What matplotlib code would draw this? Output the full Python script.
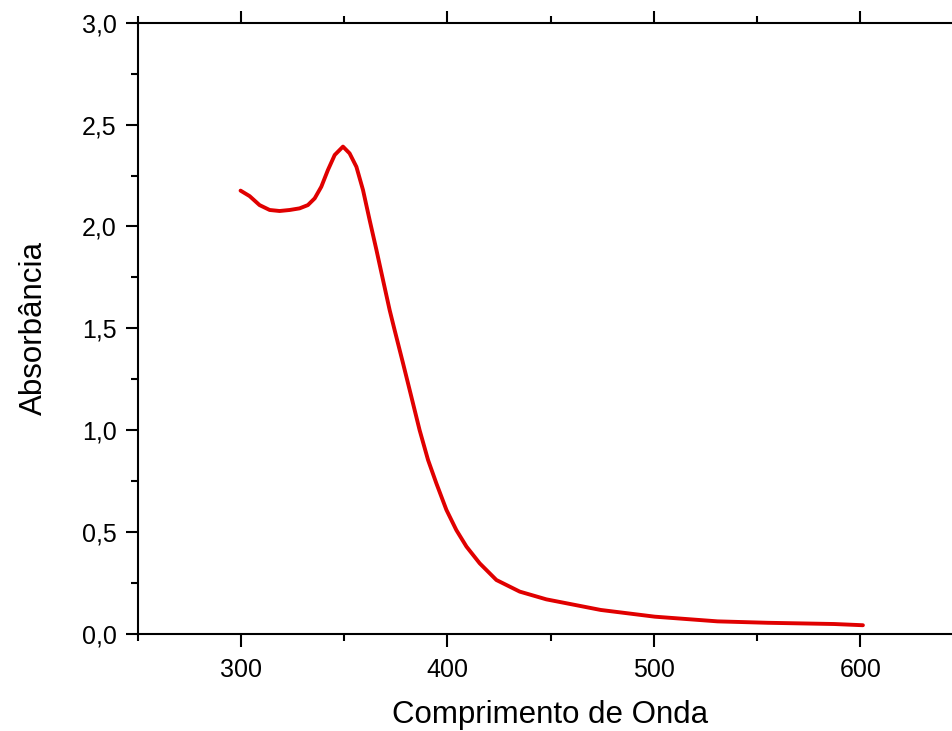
import matplotlib.pyplot as plt
from matplotlib.ticker import MultipleLocator, FuncFormatter

plt.rcParams['font.family'] = ['Liberation Sans', 'DejaVu Sans']

# absorption spectrum
wavelength = [299.9, 304.3, 309.1, 314.0, 318.8, 323.7, 328.5, 332.5, 335.8,
              339.0, 342.2, 345.5, 349.5, 352.7, 356.0, 359.2, 362.4, 365.7,
              368.9, 372.1, 374.5, 378.6, 382.6, 386.6, 390.7, 394.7, 399.6,
              404.4, 409.3, 415.7, 423.8, 435.1, 448.0, 474.3, 500.5, 530.9,
              555.2, 587.4, 601.3]
absorbance = [2.176, 2.149, 2.105, 2.081, 2.076, 2.081, 2.089, 2.105, 2.138,
              2.195, 2.277, 2.351, 2.392, 2.359, 2.293, 2.179, 2.032, 1.885,
              1.737, 1.590, 1.492, 1.328, 1.165, 1.001, 0.854, 0.740, 0.609,
              0.510, 0.429, 0.347, 0.265, 0.208, 0.170, 0.118, 0.085, 0.062,
              0.055, 0.049, 0.043]

fig = plt.figure(figsize=(9.53, 7.31), dpi=100)
ax = fig.add_axes([0.1443, 0.1327, 0.8667, 0.8362])

ax.plot(wavelength, absorbance, color='#e00000', lw=2.8,
        solid_capstyle='round', solid_joinstyle='round')

ax.set_xlim(250, 650)
ax.set_ylim(0, 3.0)
ax.xaxis.set_major_locator(MultipleLocator(100))
ax.xaxis.set_minor_locator(MultipleLocator(50))
ax.yaxis.set_major_locator(MultipleLocator(0.5))
ax.yaxis.set_minor_locator(MultipleLocator(0.25))
ax.yaxis.set_major_formatter(FuncFormatter(lambda v, p: f"{v:.1f}".replace('.', ',')))

ax.spines['right'].set_visible(False)
for s in ['left', 'bottom', 'top']:
    ax.spines[s].set_linewidth(1.5)

ax.tick_params(which='both', direction='out', width=1.5, labelsize=18,
               top=True, right=False, labeltop=False)
ax.tick_params(which='major', length=9)
ax.tick_params(which='minor', length=5)
ax.tick_params(axis='x', pad=8)
ax.tick_params(axis='y', pad=6)

ax.set_xlabel('Comprimento de Onda', fontsize=22.5, labelpad=13)
ax.set_ylabel('Absorbância', fontsize=22.5, labelpad=24)

fig.savefig('out.png', dpi=100)
